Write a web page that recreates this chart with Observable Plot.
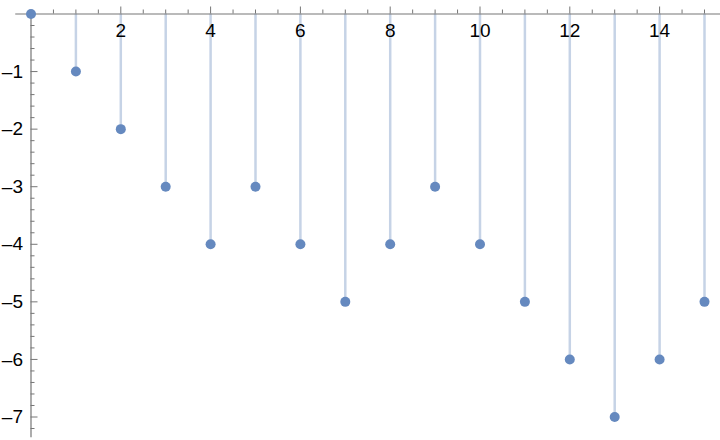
<!DOCTYPE html>
<html>
<head>
<meta charset="utf-8">
<script src="https://cdn.jsdelivr.net/npm/d3@7"></script>
<script src="https://cdn.jsdelivr.net/npm/@observablehq/plot@0.6"></script>
<style>
  html, body { margin: 0; padding: 0; background: #fff; }
  svg { display: block; }
  svg text.lbl { font-family: "Liberation Sans", Arial, sans-serif; font-size: 19px; }
</style>
</head>
<body>
<div id="chart"></div>
<script>
const xs = [0, 1, 2, 3, 4, 5, 6, 7, 8, 9, 10, 11, 12, 13, 14, 15];
const ys = [0, -1, -2, -3, -4, -3, -4, -5, -4, -3, -4, -5, -6, -7, -6, -5];
const xMajorTicks = [2, 4, 6, 8, 10, 12, 14];
const yMajorTicks = [-1, -2, -3, -4, -5, -6, -7];

const data = xs.map((x, i) => ({x, y: ys[i]}));

const xMinorTicks = d3.range(0.5, 15.4, 0.5).filter(v => !xMajorTicks.includes(v));
const yMinorTicks = d3.range(1, 37).map(k => -k * 0.2).filter(v => Math.abs(v - Math.round(v)) > 1e-6);

const axisColor = "#767676";

const chart = Plot.plot({
  width: 720,
  height: 440,
  marginTop: 0, marginRight: 0, marginBottom: 0, marginLeft: 0,
  x: {domain: [0, 15], range: [30.5, 704], axis: null},
  y: {domain: [0, -7], range: [13.5, 416.5], axis: null},
  style: {fontFamily: "'Liberation Sans', Arial, sans-serif", fontSize: "19px"},
  marks: [
    // stems
    Plot.ruleX(data, {x: "x", y1: 0, y2: "y", stroke: "#c6d3e6", strokeWidth: 2.5}),
    // x axis line
    Plot.ruleY([0], {x1: -0.34, x2: 15.4, stroke: axisColor, strokeWidth: 1.2}),
    // y axis line
    Plot.ruleX([0], {y1: 0, y2: -7.36, stroke: axisColor, strokeWidth: 1.2}),
    // x ticks (pointing up)
    Plot.ruleX(xMajorTicks, {x: d => d, y1: 0, y2: 0, insetTop: -7, stroke: axisColor}),
    Plot.ruleX(xMinorTicks, {x: d => d, y1: 0, y2: 0, insetTop: -4, stroke: axisColor}),
    // y ticks (pointing right)
    Plot.ruleY(yMajorTicks, {y: d => d, x1: 0, x2: 0, insetRight: -7, stroke: axisColor}),
    Plot.ruleY(yMinorTicks, {y: d => d, x1: 0, x2: 0, insetRight: -4, stroke: axisColor}),
    // tick labels
    Plot.text(xMajorTicks, {x: d => d, y: 0, text: d => String(d), dy: 17, fill: "#000", fontSize: 19, className: "lbl"}),
    Plot.text(yMajorTicks, {x: 0, y: d => d, text: d => "\u2013" + Math.abs(d), textAnchor: "end", dx: -8, fill: "#000", fontSize: 19, className: "lbl"}),
    // points
    Plot.dot(data, {x: "x", y: "y", r: 5, fill: "#6589bf", stroke: "none"})
  ]
});

document.getElementById("chart").append(chart);
</script>
</body>
</html>
